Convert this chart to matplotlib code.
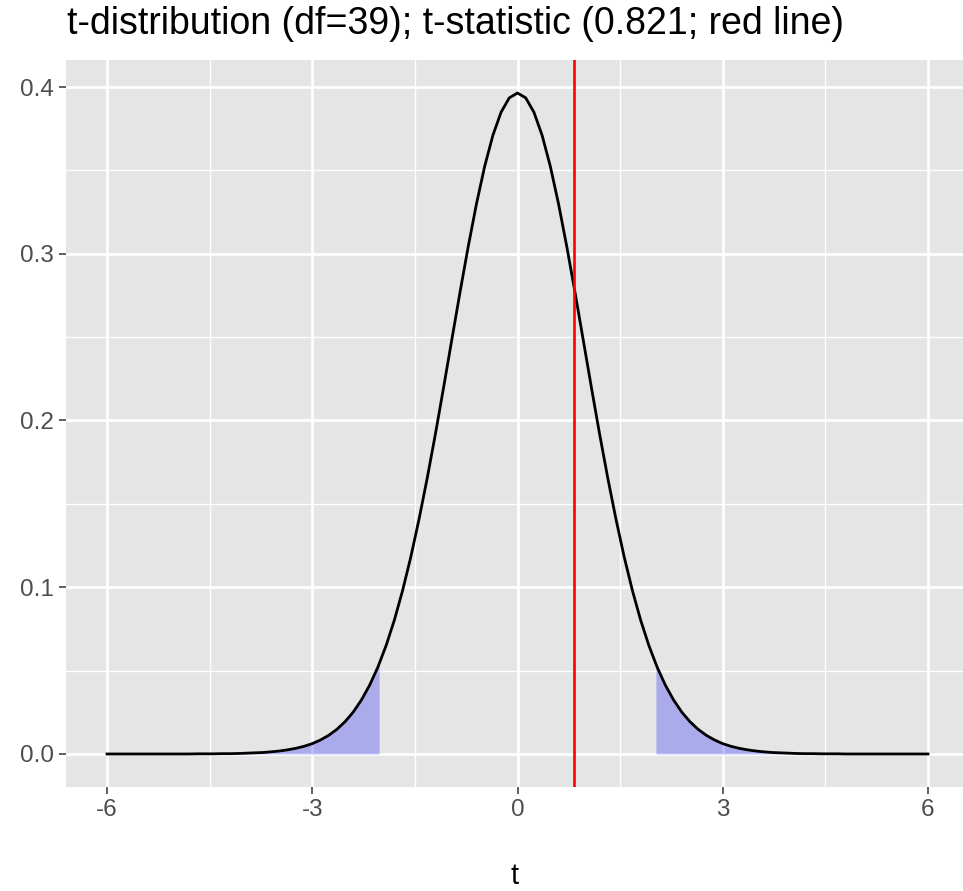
import numpy as np
import matplotlib
matplotlib.use("Agg")
import matplotlib.pyplot as plt

# ---- data ----
df = 39
t_stat = 0.821
t_crit = 2.023
dens_at_crit = 0.0539
# density of the curve for t = 0, 0.12, ..., 6.00 (symmetric about 0)
dens_half = [0.3964, 0.3935, 0.3849, 0.3710, 0.3524, 0.3299, 0.3044, 0.2770,
             0.2485, 0.2199, 0.1919, 0.1654, 0.1407, 0.1181, 0.0980, 0.0803,
             0.0651, 0.0522, 0.0414, 0.0325, 0.0252, 0.0194, 0.0148, 0.0112,
             0.0084, 0.0062, 0.0046, 0.0034, 0.0025, 0.0018, 0.0013, 0.0009,
             0.0007, 0.0005, 0.0003, 0.0002, 0.0002, 0.0001, 0.0001, 0.0001,
             0.0, 0.0, 0.0, 0.0, 0.0, 0.0, 0.0, 0.0, 0.0, 0.0, 0.0]
x_ticks = [-6, -3, 0, 3, 6]
x_labels = ["-6", "-3", "0", "3", "6"]
y_ticks = [0.0, 0.1, 0.2, 0.3, 0.4]
y_labels = ["0.0", "0.1", "0.2", "0.3", "0.4"]
title = f"t-distribution (df={df}); t-statistic ({t_stat}; red line)"

t = np.linspace(-6, 6, 101)
dens = np.array(dens_half[:0:-1] + dens_half)

W, H = 963, 891
fig = plt.figure(figsize=(W / 100, H / 100), dpi=100)
fig.patch.set_facecolor("white")
ax = fig.add_axes([66 / W, 1 - 787 / H, (969 - 66) / W, (787 - 60) / H])
ax.set_facecolor("#E5E5E5")
for s in ax.spines.values():
    s.set_visible(False)

# grid
for xm in [-4.5, -1.5, 1.5, 4.5]:
    ax.axvline(xm, color="white", lw=0.95, zorder=0.5)
for ym in [0.05, 0.15, 0.25, 0.35]:
    ax.axhline(ym, color="white", lw=0.95, zorder=0.5)
for xm in x_ticks:
    ax.axvline(xm, color="white", lw=1.9, zorder=0.6)
for ym in y_ticks:
    ax.axhline(ym, color="white", lw=1.9, zorder=0.6)

# shaded tails
left = t <= -t_crit
xl = np.append(t[left], -t_crit)
yl = np.append(dens[left], dens_at_crit)
ax.fill_between(xl, 0, yl, color="blue", alpha=0.25, lw=0, zorder=1)
right = t >= t_crit
xr = np.insert(t[right], 0, t_crit)
yr = np.insert(dens[right], 0, dens_at_crit)
ax.fill_between(xr, 0, yr, color="blue", alpha=0.25, lw=0, zorder=1)

ax.plot(t, dens, color="black", lw=2.0, zorder=2)
ax.axvline(t_stat, color="red", lw=1.9, zorder=3)

ax.set_xlim(-6.6, 6.6)
ax.set_ylim(-0.0198, 0.4162)
ax.set_xticks(x_ticks)
ax.set_xticklabels(x_labels)
ax.set_yticks(y_ticks)
ax.set_yticklabels(y_labels)
ax.tick_params(axis="both", length=5, width=1.1, color="#333333",
               labelcolor="#4D4D4D", labelsize=17.5)
ax.tick_params(axis="x", pad=4)
ax.tick_params(axis="y", pad=3.5)
for lab in ax.get_xticklabels() + ax.get_yticklabels():
    lab.set_fontfamily("Liberation Sans")

fig.text(67 / W, 1 - 24 / H, title, fontsize=27, family="Liberation Sans",
         va="center", ha="left", color="black")
fig.text(515 / W, 1 - 876 / H, "t", fontsize=21, family="Liberation Sans",
         va="center", ha="center", color="black")

fig.savefig("out.png", dpi=100)
